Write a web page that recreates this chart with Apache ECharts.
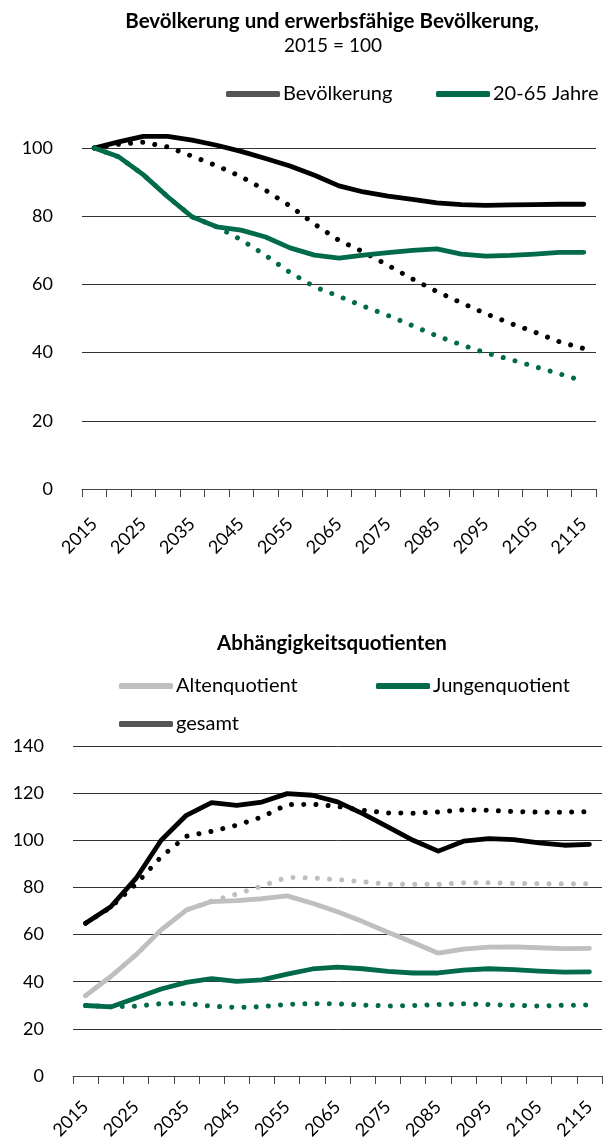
<!DOCTYPE html>
<html>
<head>
<meta charset="utf-8">
<script src="https://cdn.jsdelivr.net/npm/echarts@6/dist/echarts.min.js"></script>
<style>
  html, body { margin: 0; padding: 0; background: #fff; }
  #chart { width: 609px; height: 1142px; }
</style>
</head>
<body>
<div id="chart"></div>
<script>
// Jahre (5er Schritte)
var jahre = ['2015', '2020', '2025', '2030', '2035', '2040', '2045', '2050', '2055', '2060', '2065',
  '2070', '2075', '2080', '2085', '2090', '2095', '2100', '2105', '2110', '2115'];

// oben: 2015 = 100
var bevoelkerung = [100, 101.8, 103.4, 103.4, 102.3, 100.8, 99.0, 96.9, 94.7, 92.0, 88.9,
  87.1, 85.9, 84.9, 83.9, 83.4, 83.2, 83.3, 83.4, 83.5, 83.5];
var bevoelkerungPunkt = [100, 101.1, 101.7, 100.3, 97.6, 94.8, 91.6, 87.6, 83.0, 77.7, 72.9,
  69.5, 65.6, 61.6, 57.9, 54.6, 51.4, 48.6, 46.0, 43.2, 41.2];
var erwerbsfaehige = [100, 97.4, 92.2, 85.7, 79.8, 76.9, 75.9, 73.9, 70.7, 68.6, 67.7,
  68.6, 69.3, 70.0, 70.4, 68.9, 68.3, 68.5, 68.9, 69.4, 69.4];
var erwerbsfaehigePunkt = [100, 97.4, 92.2, 85.7, 79.8, 76.9, 73.1, 68.5, 63.5, 59.3, 56.5,
  53.6, 50.9, 47.9, 44.9, 42.3, 39.9, 38.0, 35.9, 33.8, 31.6];

// unten: Abhängigkeitsquotienten
var altenquotient = [34.1, 42.2, 51.4, 62.0, 70.4, 74.0, 74.4, 75.2, 76.4, 73.3, 69.7,
  65.5, 61.0, 56.6, 52.1, 53.8, 54.7, 54.8, 54.4, 54.0, 54.1];
var altenquotientPunkt = [34.1, 42.2, 51.4, 62.0, 70.4, 74.2, 77.2, 80.6, 84.3, 84.0, 83.3,
  82.4, 81.4, 81.3, 81.3, 82.0, 82.0, 81.7, 81.6, 81.6, 81.6];
var jungenquotient = [29.9, 29.3, 33.1, 36.9, 39.7, 41.3, 40.1, 40.8, 43.2, 45.4, 46.2,
  45.5, 44.4, 43.7, 43.7, 44.9, 45.5, 45.1, 44.5, 44.1, 44.2];
var jungenquotientPunkt = [29.9, 29.4, 29.6, 30.7, 30.8, 29.6, 29.1, 29.4, 30.4, 30.7, 30.6,
  30.1, 29.7, 29.9, 30.3, 30.6, 30.3, 30.0, 29.7, 30.0, 30.1];
var gesamt = [64.8, 71.8, 83.8, 100.0, 110.6, 116.0, 114.8, 116.2, 119.8, 119.1, 116.3,
  111.3, 105.7, 100.0, 95.4, 99.6, 100.7, 100.3, 98.9, 97.9, 98.3];
var gesamtPunkt = [64.8, 71.6, 81.4, 93.0, 101.7, 103.8, 106.4, 109.9, 115.1, 115.3, 114.4,
  112.7, 111.6, 111.5, 112.0, 112.9, 112.7, 112.2, 111.9, 111.9, 112.1];

var FONT = 'Lato';
var SCHWARZ = '#000000';
var GRUEN = '#006a4a';
var GRAU = '#bfbfbf';

function linie(name, data, color, idx, gepunktet) {
  return {
    name: name,
    type: 'line',
    xAxisIndex: idx,
    yAxisIndex: idx,
    data: data,
    symbol: 'none',
    clip: false,
    silent: true,
    lineStyle: {
      color: color,
      width: gepunktet ? 5 : 4.8,
      type: gepunktet ? [0.01, 12.2] : 'solid',
      cap: 'round',
      join: 'round'
    },
    itemStyle: { color: color },
    z: gepunktet ? 2 : 3
  };
}

function legende(name, color, left, top) {
  return {
    data: [{ name: name, itemStyle: { color: color } }],
    left: left,
    top: top,
    padding: 0,
    icon: 'roundRect',
    itemWidth: 54,
    itemHeight: 6,
    selectedMode: false,
    textStyle: { fontFamily: FONT, fontSize: 20, color: '#000', padding: [0, 0, 0, -2] }
  };
}

function xAchse(idx, margin) {
  return {
    type: 'category',
    gridIndex: idx,
    data: jahre,
    boundaryGap: true,
    axisLine: { lineStyle: { color: '#444', width: 1 } },
    axisTick: { show: true, interval: 0, length: 8, lineStyle: { color: '#444' } },
    axisLabel: {
      interval: 1,
      rotate: 45,
      margin: margin,
      fontFamily: FONT,
      fontSize: 18,
      color: '#000'
    },
    splitLine: { show: false }
  };
}

function yAchse(idx, max) {
  return {
    type: 'value',
    gridIndex: idx,
    min: 0,
    max: max,
    interval: 20,
    axisLine: { show: false },
    axisTick: { show: false },
    axisLabel: { margin: 29, fontFamily: FONT, fontSize: 18, color: '#000' },
    splitLine: { lineStyle: { color: '#333', width: 1 } }
  };
}

var chart = echarts.init(document.getElementById('chart'));
var option = {
  backgroundColor: '#fff',
  animation: false,
  graphic: [
    { type: 'text', x: 332, y: 21, style: { text: 'Bevölkerung und erwerbsfähige Bevölkerung,', align: 'center', verticalAlign: 'middle', font: 'bold 20.5px ' + FONT, fill: '#000' } },
    { type: 'text', x: 333, y: 46, style: { text: '2015 = 100', align: 'center', verticalAlign: 'middle', font: '19px ' + FONT, fill: '#000' } },
    { type: 'text', x: 332, y: 643, style: { text: 'Abhängigkeitsquotienten', align: 'center', verticalAlign: 'middle', font: 'bold 20.5px ' + FONT, fill: '#000' } }
  ],
  legend: [
    legende('Bevölkerung', '#555555', 226, 84),
    legende('20-65 Jahre', GRUEN, 436, 84),
    legende('Altenquotient', GRAU, 119, 676),
    legende('Jungenquotient', GRUEN, 376, 676),
    legende('gesamt', '#555555', 119, 714)
  ],
  grid: [
    { left: 82, top: 148, width: 514, height: 341, containLabel: false },
    { left: 73, top: 746, width: 529, height: 331, containLabel: false }
  ],
  xAxis: [xAchse(0, 32), xAchse(1, 28)],
  yAxis: [yAchse(0, 100), yAchse(1, 140)],
  series: [
    linie('Bevölkerung (Variante)', bevoelkerungPunkt, SCHWARZ, 0, true),
    linie('20-65 Jahre (Variante)', erwerbsfaehigePunkt, GRUEN, 0, true),
    linie('Bevölkerung', bevoelkerung, SCHWARZ, 0, false),
    linie('20-65 Jahre', erwerbsfaehige, GRUEN, 0, false),

    linie('gesamt (Variante)', gesamtPunkt, SCHWARZ, 1, true),
    linie('Altenquotient (Variante)', altenquotientPunkt, GRAU, 1, true),
    linie('Jungenquotient (Variante)', jungenquotientPunkt, GRUEN, 1, true),
    linie('Altenquotient', altenquotient, GRAU, 1, false),
    linie('Jungenquotient', jungenquotient, GRUEN, 1, false),
    linie('gesamt', gesamt, SCHWARZ, 1, false)
  ]
};
chart.setOption(option);
</script>
</body>
</html>
